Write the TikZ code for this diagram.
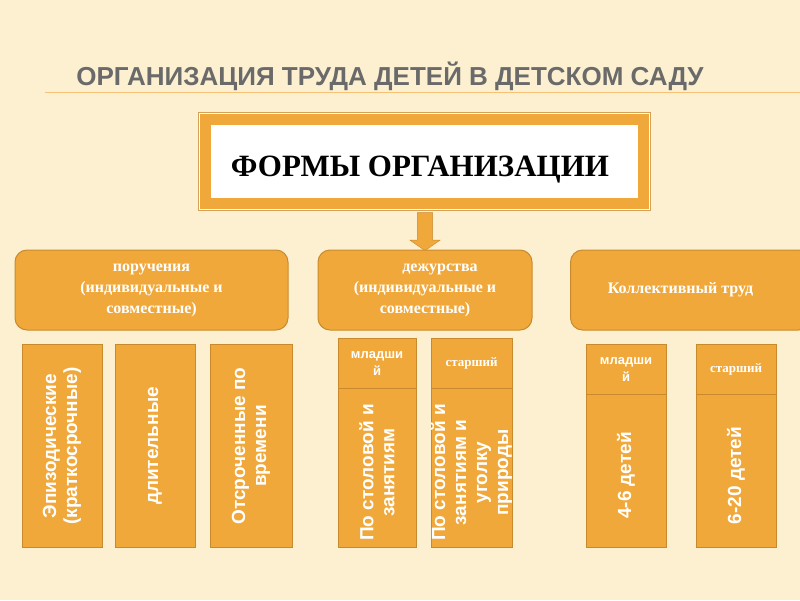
\documentclass[tikz,border=0pt]{standalone}
\usepackage{fontspec}
\setmainfont{Liberation Serif}
\setsansfont{Liberation Sans}
\usetikzlibrary{shapes.arrows}
\definecolor{bgcream}{HTML}{FCF0D0}
\definecolor{boxorange}{HTML}{F0A83A}
\definecolor{edgeorange}{HTML}{C98A2E}
\definecolor{titlegray}{HTML}{6A6A6A}
\tikzset{
  groupbox/.style={draw=edgeorange, fill=boxorange, rounded corners=12pt, line width=1pt,
    text=white, font=\bfseries\fontsize{16}{21}\selectfont, align=center},
  barbox/.style={draw=edgeorange, fill=boxorange, line width=1pt},
  bartext/.style={rotate=90, text=white, font=\sffamily\bfseries\fontsize{19}{21}\selectfont, align=center},
  agebox/.style={text=white, font=\sffamily\bfseries\fontsize{13}{17}\selectfont, align=center}
}
\begin{document}
\begin{tikzpicture}[x=1pt,y=-1pt]
\fill[bgcream] (0,0) rectangle (800,600);
\useasboundingbox (0,0) rectangle (800,600);
% title
\node[text=titlegray, font=\sffamily\bfseries\fontsize{26}{30}\selectfont] (title) at (390,76) {ОРГАНИЗАЦИЯ ТРУДА ДЕТЕЙ В ДЕТСКОМ САДУ};
\draw[boxorange!70, line width=1pt] (45,92) -- (800,92);
% main frame
\draw[edgeorange!80, fill=white, line width=1pt] (198,112) rectangle (650,210);
\draw[boxorange, line width=11pt] (205,119) rectangle (643,203);
\node[font=\bfseries\fontsize{31}{34}\selectfont] (forms) at (420,170) {ФОРМЫ  ОРГАНИЗАЦИИ};
\node[single arrow, shape border rotate=270, fill=boxorange, draw=edgeorange, minimum height=38pt,
  minimum width=30pt, single arrow head extend=4pt, single arrow tip angle=110, inner sep=4pt] (arrow) at (425,229) {};
% groups
\node[groupbox, minimum width=273pt, minimum height=80pt] (g1) at (151.5,290) {поручения\\(индивидуальные и\\совместные)};
\node[groupbox, minimum width=214pt, minimum height=80pt] (g2) at (425,290) {\hspace*{30pt}дежурства\\(индивидуальные и\\совместные)};
\node[groupbox, minimum width=240pt, minimum height=80pt, anchor=west] (g3) at (570,290) {Коллективный труд\hspace*{20pt}};
% bars of the first group
\foreach \xa/\xb/\txt in {22/102/{Эпизодические\\(краткосрочные)}, 115/195/{длительные}, 210/292/{Отсроченные по\\времени}}{
  \draw[barbox] (\xa,344) rectangle (\xb,547);
  \node[bartext] at ({(\xa+\xb)/2},446) {\txt};
}
% bars with age headers
\foreach \xa/\xb/\yt/\yb/\age/\txt in {338/416/338/388/{младши\\й}/{По столовой и\\занятиям}, 431/512/338/388/{\rmfamily старший}/{По столовой и\\занятиям и\\уголку\\природы}, 586/666/344/394/{младши\\й}/{4-6  детей}, 696/776/344/394/{\rmfamily старший}/{6-20 детей}}{
  \draw[barbox] (\xa,\yt) rectangle (\xb,\yb);
  \draw[barbox] (\xa,\yb) rectangle (\xb,547);
  \node[agebox] at ({(\xa+\xb)/2},{(\yt+\yb)/2}) {\age};
  \node[bartext] at ({(\xa+\xb)/2},{(\yb+547)/2+5}) {\txt};
}
\end{tikzpicture}
\end{document}
